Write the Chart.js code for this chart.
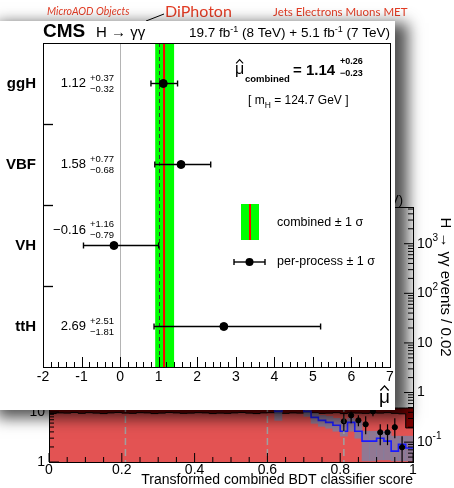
<!DOCTYPE html>
<html>
<head>
<meta charset="utf-8">
<script src="https://cdn.jsdelivr.net/npm/chart.js@4.4.0/dist/chart.umd.min.js"></script>
<style>
  html, body { margin: 0; padding: 0; background: #fff; }
  body { width: 454px; height: 488px; position: relative; overflow: hidden; }
  #bgChart { position: absolute; left: 0; top: 0; }
  #panel {
    position: absolute; left: -10px; top: 21px; width: 405px; height: 389px;
    background: #fff; overflow: hidden;
    box-shadow: 10px 5px 14px 3px rgba(0, 0, 0, 0.68);
  }
  .tag { position: absolute; color: #e43c24; font-family: Lato, 'Open Sans', sans-serif; white-space: nowrap; line-height: 1; }
</style>
</head>
<body>
<canvas id="bgChart" width="454" height="488"></canvas>
<div class="tag" style="left:47px; top:6px; font-size:10.5px; font-style:italic;">MicroAOD Objects</div>
<div class="tag" style="left:165px; top:3px; font-size:16px;">DiPhoton</div>
<div class="tag" style="left:273px; top:6px; font-size:11.5px;">Jets Electrons Muons MET</div>
<div id="panel"><canvas id="muChart" width="405" height="389"></canvas></div>

<script>
// === Signal strength per production process (front panel) ===
const processes = ['ggH', 'VBF', 'VH', 'ttH'];
const muBest    = [1.12, 1.58, -0.16, 2.69];
const muErrUp   = [0.37, 0.77, 1.16, 2.51];
const muErrDn   = [0.32, 0.68, 0.79, 1.81];
const muText    = ['1.12', '1.58', '\u22120.16', '2.69'];
const muUpText  = ['+0.37', '+0.77', '+1.16', '+2.51'];
const muDnText  = ['\u22120.32', '\u22120.68', '\u22120.79', '\u22121.81'];
const muComb = 1.14;
const muCombUp = 0.26;
const muCombDn = 0.23;
const muTicks = [-2, -1, 0, 1, 2, 3, 4, 5, 6, 7];
const muTickLabels = ['-2', '-1', '0', '1', '2', '3', '4', '5', '6', '7'];

// === BDT classifier score histogram (background plot) ===
const bdtEdges = [0.00, 0.02, 0.04, 0.06, 0.08, 0.10, 0.12, 0.14, 0.16, 0.18,
                  0.20, 0.22, 0.24, 0.26, 0.28, 0.30, 0.32, 0.34, 0.36, 0.38,
                  0.40, 0.42, 0.44, 0.46, 0.48, 0.50, 0.52, 0.54, 0.56, 0.58,
                  0.60, 0.62, 0.64, 0.66, 0.68, 0.70, 0.72, 0.74, 0.76, 0.78,
                  0.80, 0.82, 0.84, 0.86, 0.88, 0.90, 0.92, 0.94, 0.96, 0.98, 1.00];
const bkgMain = [9.3, 9.6, 9.5, 9.8, 9.4, 9.7, 9.5, 9.3, 9.6, 9.8,
                 9.5, 9.4, 9.7, 9.6, 9.3, 9.5, 9.8, 9.6, 9.4, 9.5,
                 9.7, 9.6, 9.3, 9.5, 9.4, 9.6, 9.8, 9.5, 9.3, 9.6,
                 9.7, 9.5, 9.4, 9.6, 9.5, 9.8, 9.6, 9.4, 9.5, 9.7,
                 9.3, 9.6, 9.5, 9.4, 9.6, 9.5, 9.7, 9.4, 9.2, 4.8];
const bkgTop  = [12, 12, 12, 12, 12, 12, 12, 12, 12, 12,
                 12, 12, 12, 12, 12, 12, 12, 12, 12, 12,
                 12, 12, 12, 12, 12, 12, 12, 12, 12, 12,
                 12, 12, 12, 12, 12, 12, 12, 12, 12, 12,
                 12, 12, 12, 12, 12, 12, 12, 12, 12, 12];
const sigEdges = [0.60, 0.62, 0.64, 0.66, 0.68, 0.70, 0.72, 0.74, 0.76, 0.78,
                  0.80, 0.82, 0.84, 0.86, 0.88, 0.90, 0.92, 0.94, 0.96, 0.98, 1.00];
const sigVals  = [0.6, 0.417, 0.6, 0.6, 0.6, 0.417, 0.316, 0.275, 0.251, 0.219,
                  0.166, 0.251, 0.166, 0.105, 0.105, 0.120, 0.105, 0.066, 0.091, 0.076];
const bandCenters = [0.63, 0.71, 0.73, 0.75, 0.77, 0.79, 0.81, 0.83, 0.85, 0.87, 0.89, 0.91, 0.93, 0.95, 0.97, 0.99];
const bandLo = [0.275, 0.331, 0.240, 0.209, 0.191, 0.166, 0.132, 0.166, 0.120, 0.042, 0.042, 0.044, 0.044, 0.042, 0.042, 0.042];
const bandHi = [0.50, 0.50, 0.380, 0.347, 0.331, 0.302, 0.263, 0.302, 0.263, 0.166, 0.166, 0.166, 0.166, 0.132, 0.132, 0.132];
const obsX  = [0.81, 0.83, 0.85, 0.87, 0.89, 0.91, 0.93, 0.95, 0.97];
const obsY  = [0.263, 0.347, 0.275, 0.229, 0.417, 0.158, 0.158, 0.200, 0.079];
const obsLo = [0.166, 0.240, 0.209, 0.145, 0.331, 0.087, 0.087, 0.120, 0.040];
const obsHi = [0.380, 0.417, 0.347, 0.331, 0.550, 0.229, 0.229, 0.302, 0.132];
const catBounds = [0.21, 0.60, 0.81];
const bdtTicks = [0, 0.2, 0.4, 0.6, 0.8, 1];
const bdtTickLabels = ['0', '0.2', '0.4', '0.6', '0.8', '1'];
const leftDecades = [1, 10, 100, 1000, 10000, 100000];
const leftLabels = ['1', '10', '10^2', '10^3', '10^4', '10^5'];
const rightDecades = [0.1, 1, 10, 100, 1000];
const rightLabels = ['10^-1', '1', '10', '10^2', '10^3'];

const FONT = "'Liberation Sans', Arial, Helvetica, sans-serif";

function histPoints(edges, vals) {
    // points at left bin edges + closing point at last edge
    return edges.map((e, i) => ({ x: e, y: vals[Math.min(i, vals.length - 1)] }));
}

function seg(ctx, x0, y0, x1, y1) {
    ctx.beginPath();
    ctx.moveTo(x0, y0);
    ctx.lineTo(x1, y1);
    ctx.stroke();
}

// draw "10^n" style label, align: 'left' | 'right' | 'center'
function powLabel(ctx, s, x, y, size, align) {
    const parts = s.split('^');
    ctx.font = size + 'px ' + FONT;
    const w0 = ctx.measureText(parts[0]).width;
    let w1 = 0;
    if (parts[1]) {
        ctx.font = Math.round(size * 0.68) + 'px ' + FONT;
        w1 = ctx.measureText(parts[1]).width;
    }
    const tot = w0 + w1;
    let sx = align === 'right' ? x - tot : align === 'center' ? x - tot / 2 : x;
    ctx.textAlign = 'left';
    ctx.textBaseline = 'middle';
    ctx.font = size + 'px ' + FONT;
    ctx.fillText(parts[0], sx, y);
    if (parts[1]) {
        ctx.font = Math.round(size * 0.68) + 'px ' + FONT;
        ctx.fillText(parts[1], sx + w0, y - size * 0.42);
    }
}

// runs of [text, font, dy]; drawn left to right from x (or ending at x if right aligned)
function runs(ctx, list, x, y, rightAlign) {
    let tot = 0;
    list.forEach(r => { ctx.font = r[1]; tot += ctx.measureText(r[0]).width; });
    let cx = rightAlign ? x - tot : x;
    ctx.textAlign = 'left';
    ctx.textBaseline = 'alphabetic';
    list.forEach(r => {
        ctx.font = r[1];
        ctx.fillText(r[0], cx, y + (r[2] || 0));
        cx += ctx.measureText(r[0]).width;
    });
    return cx;
}

function muHat(ctx, x, base, size, align) {
    ctx.font = size + 'px ' + FONT;
    const w = ctx.measureText('\u03bc').width;
    const sx = align === 'right' ? x - w : x;
    ctx.textAlign = 'left';
    ctx.textBaseline = 'alphabetic';
    ctx.fillText('\u03bc', sx, base);
    ctx.lineWidth = size * 0.07;
    ctx.beginPath();
    ctx.moveTo(sx + w * 0.12, base - size * 0.66);
    ctx.lineTo(sx + w * 0.5, base - size * 0.9);
    ctx.lineTo(sx + w * 0.88, base - size * 0.66);
    ctx.stroke();
}

// ---------- background chart ----------
const bgDecor = {
    id: 'bgDecor',
    afterDatasetsDraw(chart) {
        const { ctx, chartArea: a, scales: { x, yR } } = chart;
        ctx.save();
        ctx.strokeStyle = '#a0a0a0';
        ctx.lineWidth = 1.5;
        ctx.setLineDash([7, 4]);
        catBounds.forEach(b => {
            const px = x.getPixelForValue(b);
            seg(ctx, px, a.top, px, a.bottom);
        });
        ctx.setLineDash([]);
        ctx.strokeStyle = '#000';
        ctx.lineWidth = 1.2;
        obsX.forEach((v, i) => {
            const px = x.getPixelForValue(v);
            seg(ctx, px, yR.getPixelForValue(obsLo[i]), px, yR.getPixelForValue(obsHi[i]));
        });
        ctx.restore();
    },
    afterDraw(chart) {
        const { ctx, chartArea: a, scales: { x, yL, yR } } = chart;
        ctx.save();
        ctx.strokeStyle = '#000';
        ctx.fillStyle = '#000';
        ctx.lineWidth = 1;
        ctx.strokeRect(a.left + 0.5, a.top + 0.5, a.right - a.left, a.bottom - a.top);

        // x ticks (inward)
        for (let i = 0; i <= 20; i++) {
            const v = i * 0.05;
            const px = x.getPixelForValue(v);
            const len = (i % 4 === 0) ? 9 : 5;
            seg(ctx, px, a.bottom, px, a.bottom - len);
        }
        bdtTicks.forEach((v, i) => {
            ctx.font = '14px ' + FONT;
            ctx.textAlign = 'center';
            ctx.textBaseline = 'middle';
            ctx.fillText(bdtTickLabels[i], x.getPixelForValue(v), a.bottom + 8);
        });
        ctx.font = '14px ' + FONT;
        ctx.textAlign = 'right';
        ctx.textBaseline = 'middle';
        ctx.fillText('Transformed combined BDT classifier score', a.right, a.bottom + 18);

        // left log axis
        leftDecades.forEach((d, i) => {
            const py = yL.getPixelForValue(d);
            seg(ctx, a.left, py, a.left + 10, py);
            powLabel(ctx, leftLabels[i], a.left - 4, py, 14, 'right');
            for (let k = 2; k <= 9; k++) {
                const m = d * k;
                if (m > yL.max) break;
                const pm = yL.getPixelForValue(m);
                seg(ctx, a.left, pm, a.left + 5, pm);
            }
        });
        // right log axis
        [0.01].concat(rightDecades).forEach(d => {
            for (let k = 2; k <= 9; k++) {
                const m = d * k;
                if (m < yR.min || m > yR.max) continue;
                const pm = yR.getPixelForValue(m);
                seg(ctx, a.right, pm, a.right - 5, pm);
            }
        });
        rightDecades.forEach((d, i) => {
            const py = yR.getPixelForValue(d);
            seg(ctx, a.right, py, a.right - 9, py);
            powLabel(ctx, rightLabels[i], a.right + 4, py, 14, 'left');
        });
        ctx.save();
        ctx.translate(a.right + 32, 287);
        ctx.rotate(Math.PI / 2);
        ctx.font = '15px ' + FONT;
        ctx.textAlign = 'center';
        ctx.textBaseline = 'middle';
        ctx.fillText('H \u2192 \u03b3\u03b3 events / 0.02', 0, 0);
        ctx.restore();

        // title (mostly hidden behind the front panel)
        runs(ctx, [['19.7 fb', '13px ' + FONT], ['-1', '9px ' + FONT, -5], [' (8 TeV)', '13px ' + FONT]],
             a.right - 10, a.top - 3, true);

        // pointer from the DiPhoton tag
        ctx.lineWidth = 1;
        seg(ctx, 164, 14, 146, 21);
        ctx.restore();
    }
};

new Chart(document.getElementById('bgChart'), {
    type: 'line',
    data: {
        datasets: [
            {
                label: 'bkgTop', data: histPoints(bdtEdges, bkgTop), yAxisID: 'yL',
                stepped: true, fill: 'start', backgroundColor: '#7d0000',
                borderColor: '#000', borderWidth: 1, pointRadius: 0, order: 5
            },
            {
                label: 'bkgMain', data: histPoints(bdtEdges, bkgMain), yAxisID: 'yL',
                stepped: true, fill: 'start', backgroundColor: '#e35353',
                borderColor: '#000', borderWidth: 1, pointRadius: 0, order: 4
            },
            {
                type: 'bar', label: 'band', yAxisID: 'yR',
                data: bandCenters.map((c, i) => ({ x: c, y: [bandLo[i], bandHi[i]] })),
                backgroundColor: 'rgba(118, 132, 168, 0.75)', borderWidth: 0,
                barPercentage: 1, categoryPercentage: 1, order: 3
            },
            {
                label: 'signal', data: histPoints(sigEdges, sigVals), yAxisID: 'yR',
                stepped: true, fill: false, borderColor: '#1a1aff', borderWidth: 1.6,
                pointRadius: 0, order: 2
            },
            {
                type: 'scatter', label: 'data', yAxisID: 'yR',
                data: obsX.map((v, i) => ({ x: v, y: obsY[i] })),
                backgroundColor: '#000', borderColor: '#000', pointRadius: 2.6, order: 1
            }
        ]
    },
    options: {
        responsive: false,
        animation: false,
        events: [],
        layout: { padding: { left: 49, right: 41, top: 207, bottom: 26 } },
        plugins: { legend: { display: false }, tooltip: { enabled: false } },
        scales: {
            x: { type: 'linear', min: 0, max: 1, offset: false, display: false },
            yL: { type: 'logarithmic', position: 'left', min: 1, max: Math.pow(10, 5.1), display: false },
            yR: { type: 'logarithmic', position: 'right', min: Math.pow(10, -1.4), max: Math.pow(10, 3.74), display: false }
        }
    },
    plugins: [bgDecor]
});

// ---------- front panel: signal strengths ----------
const rowY = processes.map((p, i) => processes.length - i - 0.5);
const rowTextShift = [0, 0, -15.5, 0];

const muDecor = {
    id: 'muDecor',
    beforeDatasetsDraw(chart) {
        const { ctx, chartArea: a, scales: { x, y } } = chart;
        ctx.save();
        const xl = x.getPixelForValue(muComb - muCombDn);
        const xr = x.getPixelForValue(muComb + muCombUp);
        ctx.fillStyle = '#00ff00';
        ctx.fillRect(xl, a.top, xr - xl, a.bottom - a.top);

        ctx.strokeStyle = '#b4b4b4';
        ctx.lineWidth = 1;
        const x0 = Math.round(x.getPixelForValue(0)) + 0.5;
        seg(ctx, x0, a.top, x0, a.bottom);

        ctx.strokeStyle = '#333';
        ctx.setLineDash([4, 3]);
        const x1 = Math.round(x.getPixelForValue(1)) + 0.5;
        seg(ctx, x1, a.top, x1, a.bottom);
        ctx.setLineDash([]);

        ctx.strokeStyle = '#ff0000';
        ctx.lineWidth = 2;
        const xc = x.getPixelForValue(muComb);
        seg(ctx, xc, a.top, xc, a.bottom);

        ctx.strokeStyle = '#000';
        ctx.lineWidth = 1.4;
        processes.forEach((p, i) => {
            const py = y.getPixelForValue(rowY[i]);
            const lo = x.getPixelForValue(muBest[i] - muErrDn[i]);
            const hi = x.getPixelForValue(muBest[i] + muErrUp[i]);
            seg(ctx, lo, py, hi, py);
            seg(ctx, lo, py - 3, lo, py + 3);
            seg(ctx, hi, py - 3, hi, py + 3);
        });
        ctx.restore();
    },
    afterDraw(chart) {
        const { ctx, chartArea: a, scales: { x, y } } = chart;
        ctx.save();
        ctx.strokeStyle = '#000';
        ctx.fillStyle = '#000';
        ctx.lineWidth = 1;
        ctx.strokeRect(a.left + 0.5, a.top + 0.5, a.right - a.left, a.bottom - a.top);

        // x axis ticks, inward
        for (let v = -2; v <= 7.001; v += 0.2) {
            const px = Math.round(x.getPixelForValue(v)) + 0.5;
            const major = Math.abs(v - Math.round(v)) < 0.01;
            seg(ctx, px, a.bottom, px, a.bottom - (major ? 10 : 5));
        }
        ctx.font = '14px ' + FONT;
        ctx.textAlign = 'center';
        ctx.textBaseline = 'middle';
        muTicks.forEach((v, i) => ctx.fillText(muTickLabels[i], x.getPixelForValue(v), a.bottom + 10));
        muHat(ctx, a.right, a.bottom + 36, 19, 'right');

        // y axis: row separators
        [1, 2, 3].forEach(v => {
            const py = Math.round(y.getPixelForValue(v)) + 0.5;
            seg(ctx, a.left, py, a.left + 10, py);
        });

        // process labels and values
        processes.forEach((p, i) => {
            const py = y.getPixelForValue(rowY[i]);
            ctx.font = 'bold 15px ' + FONT;
            ctx.textAlign = 'right';
            ctx.textBaseline = 'middle';
            ctx.fillText(p, a.left - 7, py);
            const ty = py + rowTextShift[i];
            ctx.font = '13px ' + FONT;
            ctx.fillText(muText[i], a.left + 43, ty);
            ctx.font = '9.5px ' + FONT;
            ctx.textAlign = 'left';
            ctx.fillText(muUpText[i], a.left + 47, ty - 5.5);
            ctx.fillText(muDnText[i], a.left + 47, ty + 5.5);
        });

        // header
        ctx.textAlign = 'left';
        ctx.textBaseline = 'alphabetic';
        ctx.font = 'bold 19px ' + FONT;
        ctx.fillText('CMS', a.left, 16);
        ctx.font = '15px ' + FONT;
        ctx.fillText('H \u2192 \u03b3\u03b3', a.left + 53, 16);
        runs(ctx, [
            ['19.7 fb', '13.5px ' + FONT], ['-1', '9px ' + FONT, -5.5],
            [' (8 TeV) + 5.1 fb', '13.5px ' + FONT], ['-1', '9px ' + FONT, -5.5],
            [' (7 TeV)', '13.5px ' + FONT]
        ], a.right, 16, true);

        // combined result
        muHat(ctx, 245, 53, 16, 'left');
        ctx.font = 'bold 9.5px ' + FONT;
        ctx.fillText('combined', 255, 61);
        ctx.font = 'bold 15px ' + FONT;
        ctx.fillText('= ' + muComb.toFixed(2), 303, 53.5);
        ctx.font = 'bold 9px ' + FONT;
        ctx.textBaseline = 'middle';
        ctx.fillText('+' + muCombUp.toFixed(2), 350, 41);
        ctx.fillText('\u2212' + muCombDn.toFixed(2), 350, 53);
        ctx.textBaseline = 'alphabetic';
        runs(ctx, [['[ m', '12px ' + FONT], ['H', '8.5px ' + FONT, 4], [' = 124.7 GeV ]', '12px ' + FONT]], 258, 83, false);

        // legend
        ctx.fillStyle = '#00ff00';
        ctx.fillRect(251, 183, 18, 36);
        ctx.strokeStyle = '#ff0000';
        ctx.lineWidth = 2;
        seg(ctx, 260, 183, 260, 219);
        ctx.fillStyle = '#000';
        ctx.strokeStyle = '#000';
        ctx.lineWidth = 1.4;
        seg(ctx, 244, 241, 275, 241);
        seg(ctx, 244, 238, 244, 244);
        seg(ctx, 275, 238, 275, 244);
        ctx.beginPath();
        ctx.arc(259.5, 241, 4, 0, Math.PI * 2);
        ctx.fill();
        ctx.font = '12.5px ' + FONT;
        ctx.textAlign = 'left';
        ctx.textBaseline = 'middle';
        ctx.fillText('combined \u00b1 1 \u03c3', 287, 202);
        ctx.fillText('per-process \u00b1 1 \u03c3', 287, 241);
        ctx.restore();
    }
};

new Chart(document.getElementById('muChart'), {
    type: 'scatter',
    data: {
        datasets: [{
            label: 'per-process',
            data: processes.map((p, i) => ({ x: muBest[i], y: rowY[i] })),
            backgroundColor: '#000',
            borderColor: '#000',
            pointRadius: 4
        }]
    },
    options: {
        responsive: false,
        animation: false,
        events: [],
        layout: { padding: { left: 53, right: 3, top: 22, bottom: 43 } },
        plugins: { legend: { display: false }, tooltip: { enabled: false } },
        scales: {
            x: { type: 'linear', min: -2, max: 7, display: false },
            y: { type: 'linear', min: 0, max: 4, display: false }
        }
    },
    plugins: [muDecor]
});
</script>
</body>
</html>
